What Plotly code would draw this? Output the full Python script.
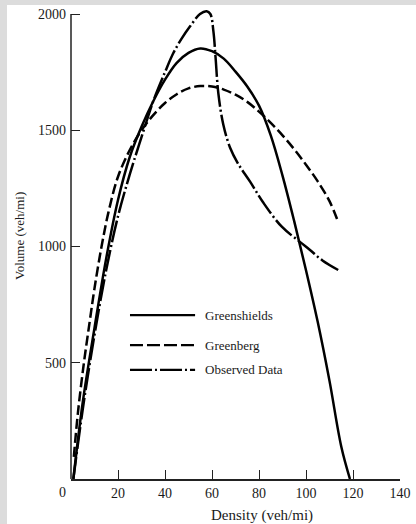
import plotly.graph_objects as go

# Density (veh/mi) and Volume values
gs_k = [1, 5, 10, 15, 20, 25, 30, 35, 40, 45, 50, 55, 60, 65, 70, 75, 80, 85, 90, 95, 100, 105, 110, 115, 118.7]
gs_q = [0, 330, 650, 950, 1200, 1385, 1515, 1625, 1718, 1790, 1833, 1852, 1840, 1808, 1752, 1688, 1606, 1478, 1305, 1108, 898, 675, 422, 140, 0]

gb_k = [1.2, 3, 5.5, 8, 10, 13, 16, 20, 25, 30, 35, 40, 45, 50, 55, 60, 65, 70, 75, 80, 85, 90, 95, 100, 105, 110, 113.7]
gb_q = [95, 290, 500, 680, 820, 1000, 1150, 1300, 1415, 1500, 1565, 1617, 1655, 1680, 1690, 1688, 1675, 1653, 1622, 1580, 1532, 1478, 1418, 1352, 1280, 1195, 1105]

ob_k = [1, 5, 10, 15, 20, 25, 30, 35, 40, 43.5, 47, 50.6, 54.9, 57.7, 59.3, 60.6, 61.5, 62.7, 64.8, 67.7, 71, 76.2, 81.8, 89.7, 97.4, 101.7, 107, 113.7]
ob_q = [0, 300, 620, 900, 1130, 1310, 1470, 1625, 1750, 1831, 1893, 1946, 2000, 2012, 2000, 1925, 1815, 1659, 1525, 1425, 1358, 1279, 1189, 1085, 1020, 985, 940, 899]

x_ticks = [20, 40, 60, 80, 100, 120, 140]
y_ticks = [500, 1000, 1500, 2000]

series_names = ["Greenshields", "Greenberg", "Observed Data"]
dashes = ["solid", "10px,4px", "22px,3px,2px,3px"]
legend_dashes = ["solid", "13px,4px", "22px,3px,2px,3px"]

FONT = "Liberation Serif"
INK = "#1a1a1a"

# pixel geometry of the plot area
W, H = 416, 524
L, R, T, B = 71, 16, 5, 45
Y_TOP = 2000 + (14 - T) / 0.2325   # 2000 sits at y=14 px, like the reference
pw, ph = W - L - R, H - T - B
def px(xp): return (xp - L) / pw
def py(yp): return (H - B - yp) / ph

fig = go.Figure()
for k, q, name, d in zip([gs_k, gb_k, ob_k], [gs_q, gb_q, ob_q], series_names, dashes):
    fig.add_trace(go.Scatter(x=k, y=q, mode="lines", name=name,
                             line=dict(color="black", width=2.5, dash=d, shape="spline", smoothing=1),
                             showlegend=False))

# manual legend (long sample lines as in the reference)
leg_y = [705, 576, 469]
for y, name, d in zip(leg_y, series_names, legend_dashes):
    fig.add_shape(type="line", xref="x", yref="y", x0=25.1, x1=52.8, y0=y, y1=y,
                  line=dict(color="black", width=2.2, dash=d))
    fig.add_annotation(x=56.2, y=y, xref="x", yref="y", text=name, showarrow=False,
                       xanchor="left", yanchor="middle",
                       font=dict(family=FONT, size=13, color=INK))

# y axis line ending at the 2000 tick
fig.add_shape(type="line", xref="paper", yref="paper", x0=0, x1=0, y0=0, y1=2000 / Y_TOP,
              line=dict(color="#222", width=1.5))

# grey border strips (left, top)
fig.add_shape(type="rect", xref="paper", yref="paper", x0=px(0), x1=px(7), y0=py(H), y1=py(0),
              fillcolor="#dcdcdc", line=dict(width=0), layer="above")
fig.add_shape(type="rect", xref="paper", yref="paper", x0=px(0), x1=px(W), y0=py(5), y1=py(0),
              fillcolor="#dcdcdc", line=dict(width=0), layer="above")

# origin label and axis titles
fig.add_annotation(xref="paper", yref="paper", x=px(62), y=py(492), text="0", showarrow=False,
                   xanchor="center", yanchor="middle", font=dict(family=FONT, size=14, color=INK))
fig.add_annotation(xref="paper", yref="paper", x=px(262), y=py(515), text="Density (veh/mi)", showarrow=False,
                   xanchor="center", yanchor="middle", font=dict(family=FONT, size=15, color=INK))
fig.add_annotation(xref="paper", yref="paper", x=px(19), y=py(236), text="Volume (veh/mi)", showarrow=False,
                   textangle=-90, xanchor="center", yanchor="middle", font=dict(family=FONT, size=13, color=INK))

fig.update_layout(
    width=W, height=H,
    margin=dict(l=L, r=R, t=T, b=B),
    paper_bgcolor="white", plot_bgcolor="white",
    font=dict(family=FONT, size=14, color=INK),
    xaxis=dict(range=[0, 140], tickvals=x_ticks, ticks="inside", ticklen=9, tickwidth=1.3, tickcolor="#222",
               showline=True, linecolor="#222", linewidth=1.5, showgrid=False, zeroline=False,
               tickfont=dict(family=FONT, size=14, color=INK)),
    yaxis=dict(range=[0, Y_TOP], tickvals=y_ticks, ticks="inside", ticklen=9, tickwidth=1.3, tickcolor="#222",
               showline=False, showgrid=False, zeroline=False,
               ticklabelstandoff=4, tickfont=dict(family=FONT, size=14, color=INK)),
)

fig.write_html("out.html")
